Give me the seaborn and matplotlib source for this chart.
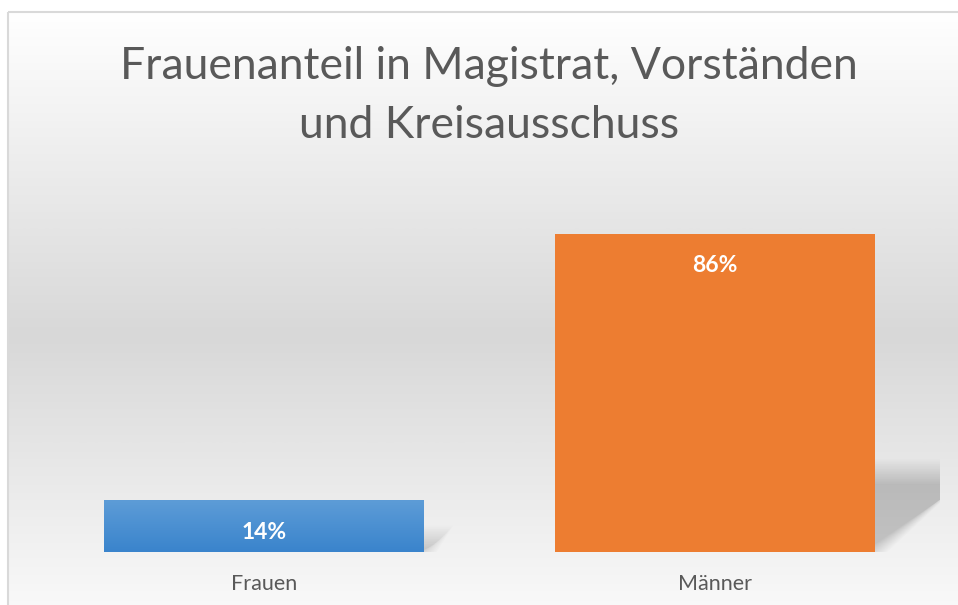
import numpy as np
import pandas as pd
import seaborn as sns
import matplotlib.pyplot as plt
from matplotlib.colors import LinearSegmentedColormap
from matplotlib.patches import Polygon, Rectangle

# data
categories = ['Frauen', 'Männer']
values = [14, 86]
bar_labels = ['14%', '86%']
title = 'Frauenanteil in Magistrat, Vorständen\nund Kreisausschuss'

sns.set_theme(style='white')
plt.rcParams['font.family'] = ['Lato', 'DejaVu Sans']

W, H = 958, 605
fig = plt.figure(figsize=(W / 100, H / 100), dpi=100)

# chart background: white -> grey -> white gradient with thin border
bg = fig.add_axes([0, 0, 1, 1], zorder=0)
bg.set_xlim(0, W)
bg.set_ylim(H, 0)
bg.axis('off')
bg_cmap = LinearSegmentedColormap.from_list('bg', ['#ffffff', '#d8d8d8', '#ffffff'])
grad = np.linspace(0, 1, 400).reshape(-1, 1)
bg.imshow(grad, cmap=bg_cmap, extent=[8, W + 20, 660, 11], aspect='auto', zorder=0)
bg.add_patch(Rectangle((8.5, 11.5), W, H, fill=False, edgecolor='#d9d9d9', lw=1.5, zorder=1))
bg.text(W / 2 + 10, 96, title, ha='center', va='center', fontsize=32,
        color='#595959', linespacing=1.55)

# plot area
ax = fig.add_axes([39 / W, (H - 552) / H, (940 - 39) / W, (552 - 182) / H], zorder=1)
ax.patch.set_alpha(0)
df = pd.DataFrame({'cat': categories, 'val': values})
sns.barplot(data=df, x='cat', y='val', hue='cat', palette=['#4a8fd3', '#ED7D31'],
            width=0.71, saturation=1, legend=False, linewidth=0, ax=ax, zorder=3)
ax.set_xlim(-0.5, 1.5)
ax.set_ylim(0, 100)
ax.set_xlabel('')
ax.set_ylabel('')
ax.set_yticks([])
ax.tick_params(axis='x', length=0, pad=16, labelsize=15.5, labelcolor='#595959')
sns.despine(ax=ax, left=True, bottom=True)

# gradient fill for the blue bar
blue_cmap = LinearSegmentedColormap.from_list('blue', ['#3a84cc', '#5d9cd7'])
p0 = ax.patches[0]
x0, y0 = p0.get_x(), p0.get_y()
im = ax.imshow(np.linspace(0, 1, 100).reshape(-1, 1), cmap=blue_cmap, origin='lower',
               extent=[x0, x0 + p0.get_width(), y0, y0 + p0.get_height()],
               aspect='auto', zorder=3.5)
im.set_clip_path(p0)
ax.set_xlim(-0.5, 1.5)
ax.set_ylim(0, 100)

# soft perspective shadows behind bars
n = 16
for p in ax.patches[:2]:
    left, right, h = p.get_x(), p.get_x() + p.get_width(), p.get_height()
    sh = 0.25 * h
    skew = 0.00257 * h
    for k in range(n):
        e = (n / 2 - k) * 0.0035
        ey = (n / 2 - k) * 0.45
        poly = Polygon([(left, 0), (right + e, 0), (right + skew + e, sh + ey),
                        (left + skew, sh + ey)], closed=True,
                       facecolor='black', alpha=0.012, lw=0, zorder=2)
        ax.add_patch(poly)

# value labels inside the bar ends
for p, lab in zip(ax.patches[:2], bar_labels):
    ax.annotate(lab, (p.get_x() + p.get_width() / 2, p.get_height()),
                xytext=(0, -32), textcoords='offset pixels', ha='center', va='center',
                fontsize=16.5, fontweight='bold', color='white', zorder=5)

fig.savefig('out.png', dpi=100)
